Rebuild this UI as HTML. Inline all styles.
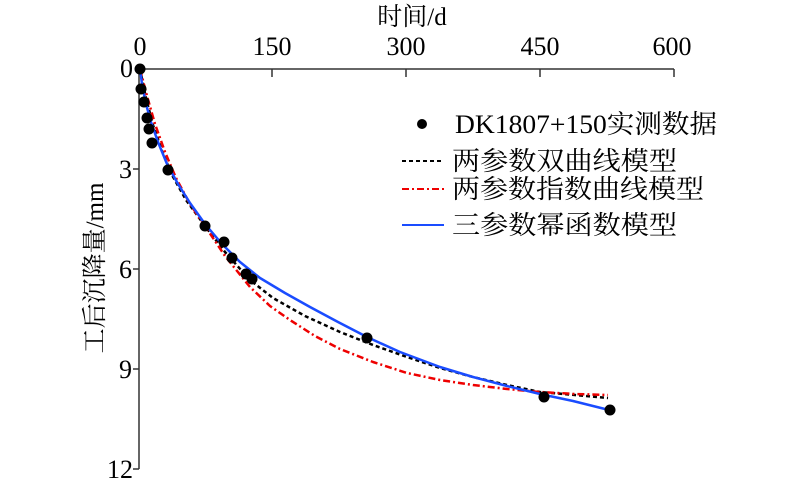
<!DOCTYPE html>
<html><head><meta charset="utf-8"><style>
html,body{margin:0;padding:0;background:#fff;}
svg{display:block;}
text{font-family:"Liberation Serif","Noto Serif CJK SC",serif;fill:#000;}
</style></head><body>
<svg width="800" height="484" viewBox="0 0 800 484" xmlns="http://www.w3.org/2000/svg">
<text x="412" y="25" font-size="25" text-anchor="middle">时间/d</text>
<g font-size="26" text-anchor="middle">
<text x="140" y="55">0</text><text x="272" y="55">150</text><text x="406" y="55">300</text><text x="540" y="55">450</text><text x="672" y="55">600</text>
</g>
<g font-size="26" text-anchor="end">
<text x="133" y="77">0</text><text x="132" y="178">3</text><text x="132" y="278">6</text><text x="132" y="378">9</text><text x="133" y="478">12</text>
</g>
<text transform="translate(103,268) rotate(-90)" font-size="25" text-anchor="middle">工后沉降量/mm</text>
<g stroke="#333" stroke-width="1.5" fill="none">
<line x1="139" y1="69" x2="674" y2="69"/>
<line x1="139" y1="69" x2="139" y2="469"/>
<line x1="272" y1="69" x2="272" y2="77"/><line x1="406" y1="69" x2="406" y2="77"/><line x1="540" y1="69" x2="540" y2="77"/><line x1="674" y1="69" x2="674" y2="77"/>
<line x1="133" y1="169" x2="139" y2="169"/><line x1="133" y1="269" x2="139" y2="269"/><line x1="133" y1="369" x2="139" y2="369"/><line x1="133" y1="469" x2="139" y2="469"/>
</g>
<polyline fill="none" stroke="#000" stroke-width="2.5" stroke-dasharray="4,3" stroke-linejoin="round" points="140,69 146,98 153,125 162,151 172,175 186,200 205,226 225,252 250,280 273,298 305,316 340,332 373,345 407,357 440,368 473,377 507,385 540,392 575,395 608,398"/>
<polyline fill="none" stroke="#e00" stroke-width="2.5" stroke-dasharray="7,3,2,3" stroke-linejoin="round" points="140,69 147,96 155,124 165,152 176,178 190,204 205,226 225,256 250,287 270,306 290,320 315,336 340,349 373,362 407,373 440,380 473,385 507,389 540,392 575,394 608,395"/>
<polyline fill="none" stroke="#1a4cff" stroke-width="2.5" stroke-linejoin="round" points="140,69 142,84 146,104 151,122 158,142 167,164 178,184 190,203 205,224 222,244 240,262 260,278 285,293 310,307 338,322 367,337 400,352 440,367 473,377 507,386 540,394 573,401 609,410"/>
<g fill="#000">
<circle cx="140" cy="69" r="5.5"/><circle cx="141" cy="89" r="5.5"/><circle cx="144" cy="102" r="5.5"/><circle cx="147" cy="118" r="5.5"/><circle cx="149" cy="129" r="5.5"/><circle cx="152" cy="143" r="5.5"/><circle cx="168" cy="170" r="5.5"/><circle cx="205" cy="226" r="5.5"/><circle cx="224" cy="242" r="5.5"/><circle cx="232" cy="258" r="5.5"/><circle cx="246" cy="274" r="5.5"/><circle cx="252" cy="279" r="5.5"/><circle cx="367" cy="338" r="5.5"/><circle cx="544" cy="397" r="5.5"/><circle cx="610" cy="410" r="5.5"/>
<circle cx="422" cy="124" r="5"/>
</g>
<g stroke-width="2">
<line x1="402" y1="161" x2="444" y2="161" stroke="#000" stroke-dasharray="4,3"/>
<line x1="402" y1="189" x2="444" y2="189" stroke="#e00" stroke-dasharray="7,3,2,3"/>
<line x1="402" y1="225" x2="444" y2="225" stroke="#1a4cff"/>
</g>
<g font-size="26">
<text x="455" y="133" textLength="262" lengthAdjust="spacingAndGlyphs">DK1807+150实测数据</text>
<text x="452" y="170" textLength="225" lengthAdjust="spacingAndGlyphs">两参数双曲线模型</text>
<text x="452" y="198" textLength="252" lengthAdjust="spacingAndGlyphs">两参数指数曲线模型</text>
<text x="452" y="234" textLength="225" lengthAdjust="spacingAndGlyphs">三参数幂函数模型</text>
</g>
</svg>
</body></html>
